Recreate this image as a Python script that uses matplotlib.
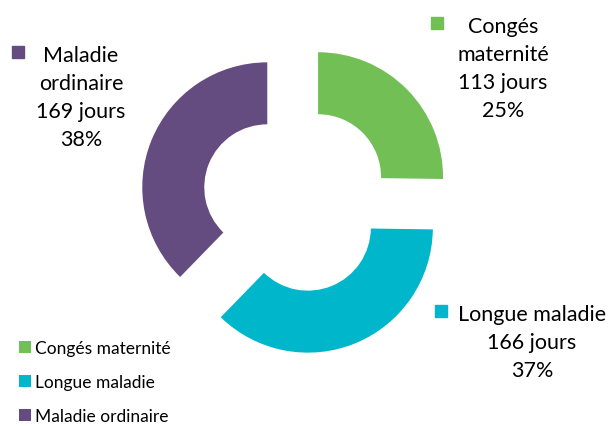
import matplotlib
matplotlib.use("Agg")
import matplotlib.pyplot as plt

# data
categories = ["Congés maternité", "Longue maladie", "Maladie ordinaire"]
label_lines = ["Congés\nmaternité", "Longue maladie", "Maladie\nordinaire"]
jours = [113, 166, 169]
colors = ["#72BF55", "#00B6CB", "#654C80"]

plt.rcParams["font.family"] = ["Lato", "DejaVu Sans"]

fig = plt.figure(figsize=(6.12, 4.27), dpi=100)
ax = fig.add_axes([0, 0, 1, 1])
ax.axis("off")

# axes units are pixels (y upwards)
radius = 125
wedges, _ = ax.pie(jours, colors=colors, startangle=90, counterclock=False,
                   center=(296, 227), radius=radius, explode=[31] * 3,
                   wedgeprops=dict(width=62, linewidth=0))
ax.set_xlim(0, 612)
ax.set_ylim(0, 427)
ax.set_aspect("equal")

total = sum(jours)
# (x of text centre, y of first line top, x of square)
label_pos = [(503, 410, 437), (532, 122, 441), (81, 381, 18)]
for name, val, col, (tx, ty, sx) in zip(label_lines, jours, colors, label_pos):
    pct = round(100 * val / total)
    txt = f"{name}\n{val} jours\n{pct}%"
    ax.text(tx, ty, txt, ha="center", va="top", fontsize=15.5,
            linespacing=1.5, color="black")
    ax.plot(sx, ty - 7, marker="s", markersize=9, color=col, linestyle="none")

leg = ax.legend(wedges, categories, loc="lower left", bbox_to_anchor=(0.025, -0.004),
                frameon=False, fontsize=12.5, handlelength=0.7, handleheight=0.7,
                handletextpad=0.25, labelspacing=1.05, borderaxespad=0,
                borderpad=0.2)
for t in leg.get_texts():
    t.set_color("black")

fig.savefig("out.png", dpi=100)
